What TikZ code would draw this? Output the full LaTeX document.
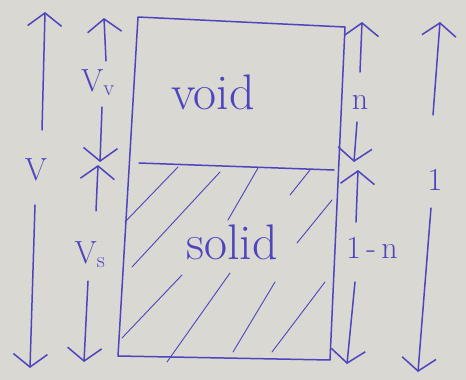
\documentclass[tikz,border=0pt]{standalone}
\usetikzlibrary{arrows.meta}
\definecolor{ink}{RGB}{78,68,190}
\definecolor{paper}{RGB}{218,216,210}
\begin{document}
\begin{tikzpicture}[x=1pt,y=-1pt,
  ink/.style={draw=ink,line width=1.5pt,line cap=round,line join=round},
  arr/.style={ink,-{Straight Barb[length=13pt,width=34pt,line width=1.5pt]}},
  lbl/.style={text=ink,font=\fontsize{32}{34}\selectfont,inner sep=1pt},
  big/.style={text=ink,font=\fontsize{50}{54}\selectfont,inner sep=1pt}]
\fill[paper] (0,0) rectangle (466,380);
\useasboundingbox (0,0) rectangle (466,380);
% box
\coordinate (tl) at (138,17);
\coordinate (tr) at (345,27);
\coordinate (bl) at (118,356);
\coordinate (br) at (330,360);
\coordinate (ml) at (139,163);
\coordinate (mr) at (334,170);
\draw[ink] (tl) -- (tr) -- (br) -- (bl) -- cycle;
\draw[ink] (ml) -- (mr);
% hatching
\draw[ink,line width=0.9pt]
  (125,222) -- (178,167)
  (132,267) -- (220,172)
  (122,338) -- (182,275)
  (228,220) -- (258,168)
  (167,362) -- (230,273)
  (233,352) -- (275,282)
  (272,352) -- (325,282)
  (297,243) -- (332,200)
  (290,195) -- (310,170);
\node[big] (void) at (213,92) {void};
\node[big] (solid) at (232,242) {solid};
% left: V
\coordinate (Vt) at (45,12);
\coordinate (Vb) at (30,368);
\node[lbl] (V) at (36,170) {V};
\draw[arr] (42,130) -- (Vt);
\draw[arr] (35,205) -- (Vb);
% V_v and V_s
\coordinate (Vvt) at (104,18);
\coordinate (Vvb) at (100,162);
\node[lbl] (Vv) at (98,83) {V\textsubscript{v}};
\draw[arr] (Vv.north) ++(8,-8) -- (Vvt);
\draw[arr] (Vv.south) ++(4,10) -- (Vvb);
\coordinate (Vst) at (98,165);
\coordinate (Vsb) at (84,362);
\node[lbl] (Vs) at (90,255) {V\textsubscript{s}};
\draw[arr] (Vs.north) ++(6,-30) -- (Vst);
\draw[arr] (Vs.south) ++(-2,12) -- (Vsb);
% right: n and 1-n
\coordinate (nt) at (362,22);
\coordinate (nb) at (354,162);
\node[lbl] (n) at (360,102) {n};
\draw[arr] (360,72) -- (nt);
\draw[arr] (357,122) -- (nb);
\coordinate (nnt) at (358,170);
\coordinate (nnb) at (347,364);
\node[lbl] (onen) at (372,248) {1\,-\,n};
\draw[arr] (356,222) -- (nnt);
\draw[arr] (355,282) -- (nnb);
% right: 1
\coordinate (ot) at (440,22);
\coordinate (ob) at (418,372);
\node[lbl] (one) at (435,180) {1};
\draw[arr] (433,115) -- (ot);
\draw[arr] (431,208) -- (ob);
\end{tikzpicture}
\end{document}
